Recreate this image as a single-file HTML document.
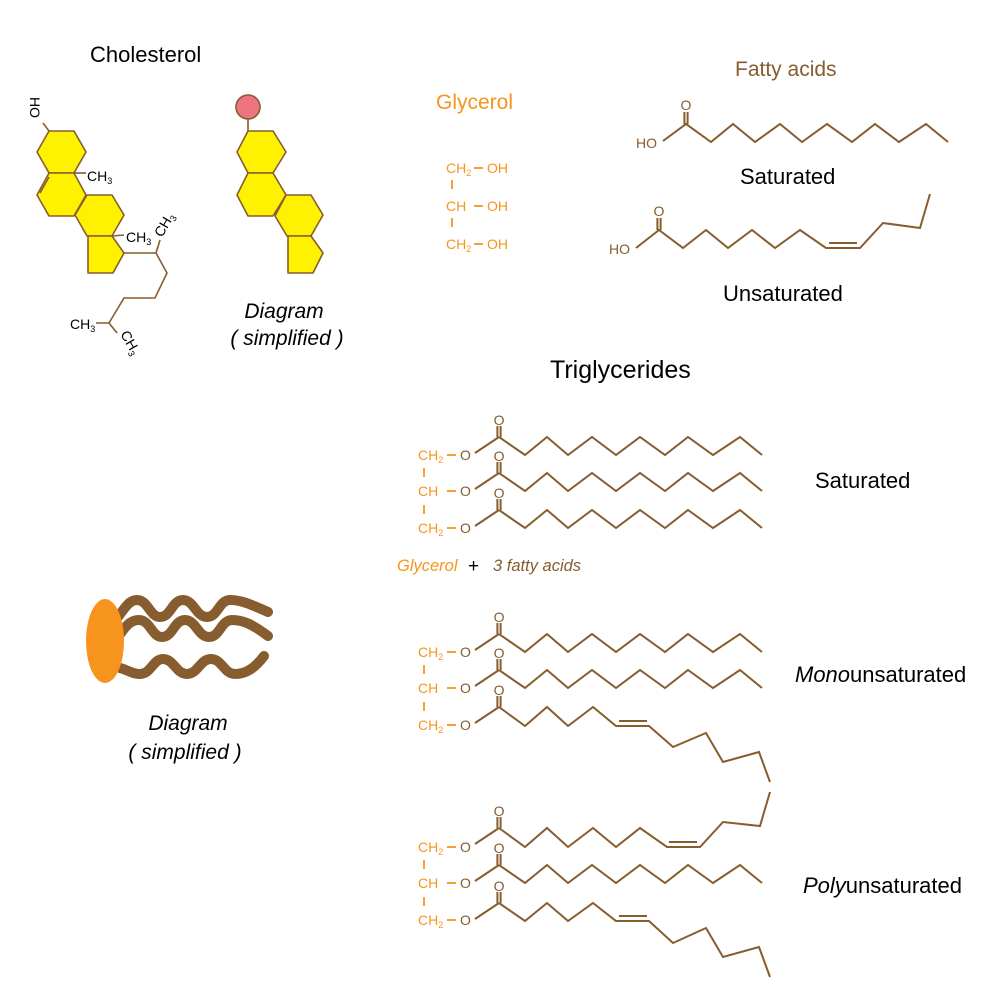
<!DOCTYPE html>
<html><head><meta charset="utf-8"><style>
html,body{margin:0;padding:0;background:#fff;}
svg{display:block;}
text{font-family:"Liberation Sans",sans-serif;}
</style></head><body>
<svg width="1000" height="1000" viewBox="0 0 1000 1000" xmlns="http://www.w3.org/2000/svg">
<defs>
<g id="ester" fill="none" stroke="#875c2e" stroke-width="2">
  <line x1="-24" y1="16" x2="0" y2="0"/>
  <line x1="-1.6" y1="0" x2="-1.6" y2="-11"/>
  <line x1="1.6" y1="0" x2="1.6" y2="-11"/>
</g>
<g id="satchain">
  <use href="#ester"/>
  <polyline fill="none" stroke="#875c2e" stroke-width="2" points="0,0 26,18 48,0 69,18 93,0 117,18 141,0 166,18 189,0 214,18 241,0 263,18"/>
  <text x="0" y="-12" font-size="14" fill="#875c2e" text-anchor="middle">O</text>
</g>
<g id="glyc">
  <text x="418" y="5" font-size="14" fill="#f7941d">CH<tspan font-size="9" dy="3">2</tspan></text>
  <line x1="447" y1="0" x2="456" y2="0" stroke="#f7941d" stroke-width="1.8"/>
  <text x="460" y="5" font-size="14" fill="#875c2e">O</text>
  <line x1="424" y1="13" x2="424" y2="22" stroke="#f7941d" stroke-width="1.8"/>
  <text x="418" y="41" font-size="14" fill="#f7941d">CH</text>
  <line x1="447" y1="36" x2="456" y2="36" stroke="#f7941d" stroke-width="1.8"/>
  <text x="460" y="41" font-size="14" fill="#875c2e">O</text>
  <line x1="424" y1="50" x2="424" y2="59" stroke="#f7941d" stroke-width="1.8"/>
  <text x="418" y="78" font-size="14" fill="#f7941d">CH<tspan font-size="9" dy="3">2</tspan></text>
  <line x1="447" y1="73" x2="456" y2="73" stroke="#f7941d" stroke-width="1.8"/>
  <text x="460" y="78" font-size="14" fill="#875c2e">O</text>
</g>
</defs>

<!-- Titles -->
<text x="90" y="62" font-size="22" fill="#000">Cholesterol</text>
<text x="436" y="109" font-size="21" fill="#f7941d">Glycerol</text>
<text x="735" y="76" font-size="21" fill="#875c2e">Fatty acids</text>
<text x="740" y="184" font-size="22" fill="#000">Saturated</text>
<text x="723" y="301" font-size="22" fill="#000">Unsaturated</text>
<text x="550" y="378" font-size="25" fill="#000">Triglycerides</text>
<text x="815" y="488" font-size="22" fill="#000">Saturated</text>
<text x="795" y="682" font-size="22" fill="#000"><tspan font-style="italic">Mono</tspan>unsaturated</text>
<text x="803" y="893" font-size="22" fill="#000"><tspan font-style="italic">Poly</tspan>unsaturated</text>
<text x="284" y="318" font-size="21" font-style="italic" text-anchor="middle" fill="#000">Diagram</text>
<text x="287" y="345" font-size="21" font-style="italic" text-anchor="middle" fill="#000">( simplified )</text>
<text x="188" y="730" font-size="21" font-style="italic" text-anchor="middle" fill="#000">Diagram</text>
<text x="185" y="759" font-size="21" font-style="italic" text-anchor="middle" fill="#000">( simplified )</text>

<!-- Cholesterol -->
<g fill="#fff200" stroke="#875c2e" stroke-width="1.6" stroke-linejoin="round">
  <polygon points="49,131 74,131 86,152 74,173 49,173 37,152"/>
  <polygon points="49,173 74,173 86,195 74,216 49,216 37,195"/>
  <polygon points="87,195 112,195 124,215 112,236 87,236 75,215"/>
  <polygon points="88,236 112,236 124,253 113,273 88,273"/>
</g>
<g fill="none" stroke="#875c2e" stroke-width="1.6">
  <line x1="49" y1="177" x2="40" y2="193"/>
  <line x1="49" y1="131" x2="43" y2="123"/>
  <line x1="74" y1="173" x2="86" y2="173"/>
  <line x1="112" y1="236" x2="124" y2="235"/>
  <polyline points="124,253 156,253 167,273 155,298 124,298 109,323 96,323"/>
  <line x1="109" y1="323" x2="117" y2="333"/>
  <line x1="156" y1="253" x2="160" y2="240"/>
</g>
<text transform="translate(30,97) rotate(90)" font-size="14" fill="#000">HO</text>
<text x="87" y="181" font-size="14" fill="#000">CH<tspan font-size="9" dy="3">3</tspan></text>
<text x="126" y="242" font-size="14" fill="#000">CH<tspan font-size="9" dy="3">3</tspan></text>
<text x="70" y="329" font-size="14" fill="#000">CH<tspan font-size="9" dy="3">3</tspan></text>
<text transform="translate(162,238) rotate(-60)" font-size="14" fill="#000">CH<tspan font-size="9" dy="3">3</tspan></text>
<text transform="translate(120,334) rotate(60)" font-size="14" fill="#000">CH<tspan font-size="9" dy="3">3</tspan></text>

<!-- Simplified -->
<line x1="248" y1="119" x2="248" y2="131" stroke="#875c2e" stroke-width="1.6"/>
<circle cx="248" cy="107" r="12" fill="#ee7480" stroke="#875c2e" stroke-width="1.6"/>
<g fill="#fff200" stroke="#875c2e" stroke-width="1.6" stroke-linejoin="round">
  <polygon points="248,131 273,131 286,152 273,173 248,173 237,152"/>
  <polygon points="248,173 273,173 286,195 273,216 248,216 237,195"/>
  <polygon points="286,195 311,195 323,215 311,236 287,236 275,216"/>
  <polygon points="288,236 311,236 323,253 313,273 288,273"/>
</g>

<!-- Glycerol top -->
<g font-size="14" fill="#f7941d">
  <text x="446" y="173">CH<tspan font-size="9" dy="3">2</tspan></text>
  <text x="487" y="173">OH</text>
  <text x="446" y="211">CH</text>
  <text x="487" y="211">OH</text>
  <text x="446" y="249">CH<tspan font-size="9" dy="3">2</tspan></text>
  <text x="487" y="249">OH</text>
</g>
<g stroke="#f7941d" stroke-width="1.8">
  <line x1="474" y1="168" x2="483" y2="168"/>
  <line x1="474" y1="206" x2="483" y2="206"/>
  <line x1="474" y1="244" x2="483" y2="244"/>
  <line x1="452" y1="180" x2="452" y2="189"/>
  <line x1="452" y1="218" x2="452" y2="227"/>
</g>

<!-- Fatty acids -->
<g fill="none" stroke="#875c2e" stroke-width="2">
  <polyline points="663,141 686,124 711,142 733,124 755,142 780,124 802,142 827,124 852,142 875,124 899,142 926,124 948,142"/>
  <line x1="684.4" y1="124" x2="684.4" y2="112"/><line x1="687.6" y1="124" x2="687.6" y2="112"/>
  <polyline points="636,248 659,230 683,248 706,230 728,248 752,230 775,248 800,230 826,248 860,248 883,223 920,228 930,194"/>
  <line x1="657.4" y1="230" x2="657.4" y2="218"/><line x1="660.6" y1="230" x2="660.6" y2="218"/>
  <line x1="829" y1="243" x2="857" y2="243"/>
</g>
<g font-size="14" fill="#875c2e">
  <text x="686" y="110" text-anchor="middle">O</text>
  <text x="636" y="148">HO</text>
  <text x="659" y="216" text-anchor="middle">O</text>
  <text x="609" y="254">HO</text>
</g>

<!-- Triglycerides saturated -->
<use href="#glyc" y="455"/>
<use href="#satchain" x="499" y="437"/>
<use href="#satchain" x="499" y="473"/>
<use href="#satchain" x="499" y="510"/>
<text x="397" y="571" font-size="16.5" font-style="italic" fill="#f7941d">Glycerol</text>
<text x="468" y="572" font-size="19" fill="#000">+</text>
<text x="493" y="571" font-size="16.5" font-style="italic" fill="#875c2e">3 fatty acids</text>

<!-- Mono -->
<use href="#glyc" y="652"/>
<use href="#satchain" x="499" y="634"/>
<use href="#satchain" x="499" y="670"/>
<g transform="translate(499,707)">
  <use href="#ester"/>
  <text x="0" y="-12" font-size="14" fill="#875c2e" text-anchor="middle">O</text>
</g>
<!-- Poly -->
<use href="#glyc" y="847"/>
<g transform="translate(499,828)">
  <use href="#ester"/>
  <text x="0" y="-12" font-size="14" fill="#875c2e" text-anchor="middle">O</text>
</g>
<use href="#satchain" x="499" y="865"/>
<g transform="translate(499,903)">
  <use href="#ester"/>
  <text x="0" y="-12" font-size="14" fill="#875c2e" text-anchor="middle">O</text>
</g>
<g fill="none" stroke="#875c2e" stroke-width="2">
  <polyline points="499,707 525,726 547,707 568,726 593,707 616,726 649,726 673,747 706,733 723,762 759,752 770,782"/>
  <line x1="619" y1="721" x2="647" y2="721"/>
  <polyline points="770,792 760,826 723,822 700,847 667,847 640,828 616,847 593,828 568,847 547,828 525,847 499,828"/>
  <line x1="669" y1="842" x2="697" y2="842"/>
  <polyline points="499,903 525,921 547,903 568,921 593,903 616,921 649,921 673,943 706,928 723,957 759,947 770,977"/>
  <line x1="619" y1="916" x2="647" y2="916"/>
</g>

<!-- Wavy diagram -->
<g fill="none" stroke="#875c2e" stroke-width="10" stroke-linecap="round">
  <path d="M118,617 C126,606 130,600 137,600 C148,600 150,617 160,617 C171,617 172,600 183,600 C194,600 196,617 207,617 C218,617 219,600 230,600 C241,600 250,604 268,612"/>
  <path d="M118,637 C126,626 130,620 139,620 C150,620 152,637 162,637 C173,637 174,620 185,620 C196,620 198,637 209,637 C220,637 221,620 232,620 C243,620 252,624 268,636"/>
  <path d="M120,668 C128,670 132,674 140,674 C151,674 153,659 163,659 C174,659 176,674 187,674 C198,674 200,659 211,659 C222,659 224,674 235,674 C246,674 255,668 264,656"/>
</g>
<ellipse cx="105" cy="641" rx="19" ry="42" fill="#f7941d"/>
</svg>
</body></html>
